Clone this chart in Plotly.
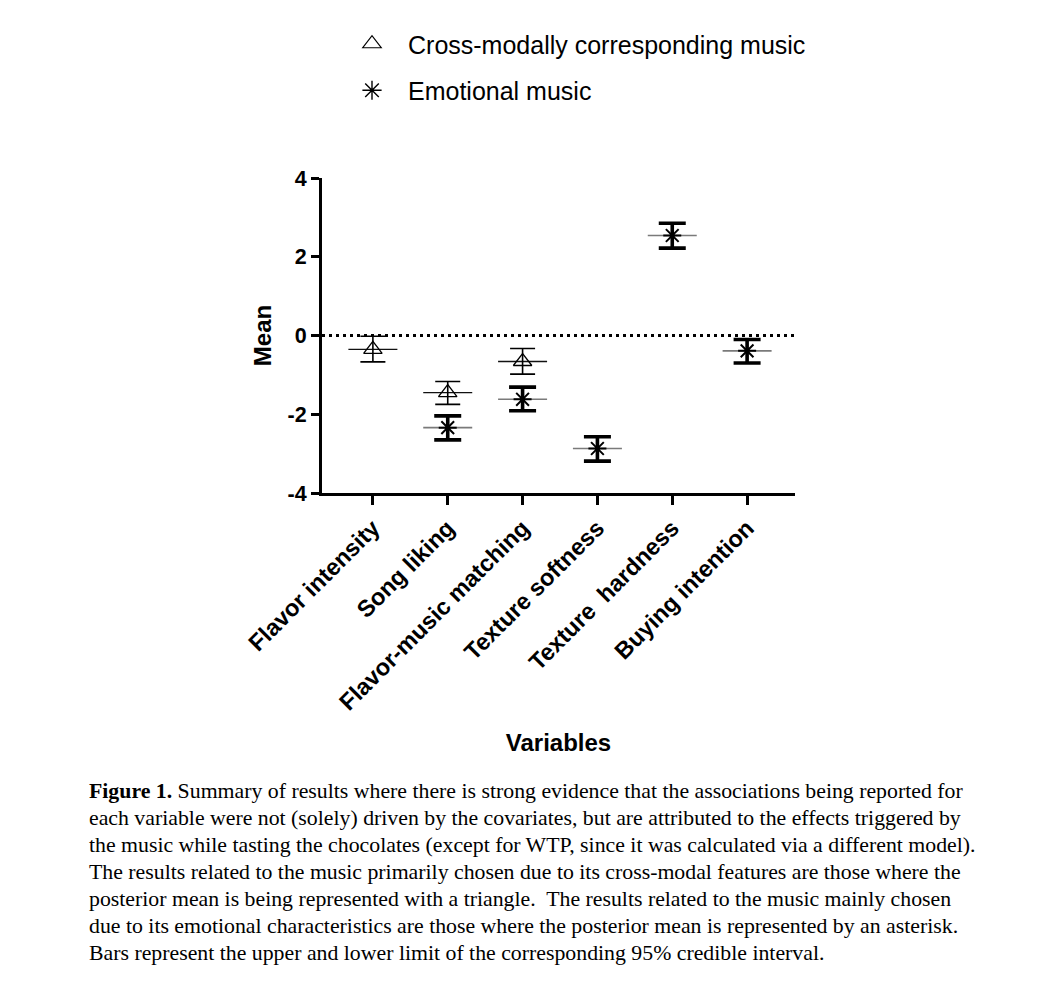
import plotly.graph_objects as go

# ---------------- data ----------------
categories = ["Flavor intensity", "Song liking", "Flavor-music matching",
              "Texture softness", "Texture\u00a0 hardness", "Buying intention"]

cm_cats = ["Flavor intensity", "Song liking", "Flavor-music matching"]
cm_mean = [-0.35, -1.45, -0.66]
cm_upper = [-0.02, -1.17, -0.33]
cm_lower = [-0.67, -1.75, -0.98]

em_cats = ["Song liking", "Flavor-music matching", "Texture softness",
           "Texture\u00a0 hardness", "Buying intention"]
em_mean = [-2.34, -1.62, -2.87, 2.54, -0.39]
em_upper = [-2.04, -1.31, -2.57, 2.85, -0.10]
em_lower = [-2.65, -1.91, -3.19, 2.22, -0.70]

y_ticks = [-4, -2, 0, 2, 4]
y_ticktext = ["-4", "-2", "0", "2", "4"]

series_names = ["Cross-modally corresponding music", "Emotional music"]

caption_lines = [
    "<b>Figure 1.</b> Summary of results where there is strong evidence that the associations being reported for",
    "each variable were not (solely) driven by the covariates, but are attributed to the effects triggered by",
    "the music while tasting the chocolates (except for WTP, since it was calculated via a different model).",
    "The results related to the music primarily chosen due to its cross-modal features are those where the",
    "posterior mean is being represented with a triangle.  The results related to the music mainly chosen",
    "due to its emotional characteristics are those where the posterior mean is represented by an asterisk.",
    "Bars represent the upper and lower limit of the corresponding 95% credible interval.",
]

# ---------------- layout geometry (page pixels; page body has 8px offset) ----------------
OFF = 8
W, H = 1040, 976
PL, PR, PT, PB = 322 - OFF, 795 - OFF, 178 - OFF, 493 - OFF


def px_to_paper_x(px):
    return (px - OFF - PL) / (PR - PL)


def px_to_paper_y(py):
    return (PB - (py - OFF)) / (PB - PT)


SANS = "Liberation Sans"
SERIF = "Liberation Serif"

cat_index = {c: i for i, c in enumerate(categories)}
cm_x = [cat_index[c] for c in cm_cats]
em_x = [cat_index[c] for c in em_cats]

fig = go.Figure()

# mean lines
fig.add_trace(go.Scatter(
    x=cm_x, y=cm_mean, mode="markers", showlegend=False, hoverinfo="skip",
    marker=dict(symbol="line-ew-open", size=35, color="#111111",
                line=dict(color="#111111", width=1.3)),
))
fig.add_trace(go.Scatter(
    x=em_x, y=em_mean, mode="markers", showlegend=False, hoverinfo="skip",
    marker=dict(symbol="line-ew-open", size=35, color="#7a7a7a",
                line=dict(color="#7a7a7a", width=1.6)),
))

# cross-modal: thin error bars + open triangle
fig.add_trace(go.Scatter(
    x=cm_x, y=cm_mean, mode="markers", showlegend=False,
    marker=dict(symbol="triangle-up-open", size=16, color="black",
                line=dict(color="black", width=1.3)),
    error_y=dict(type="data", symmetric=False,
                 array=[u - m for u, m in zip(cm_upper, cm_mean)],
                 arrayminus=[m - l for m, l in zip(cm_mean, cm_lower)],
                 color="black", thickness=1.6, width=12.5),
))

# emotional: thick error bars + asterisk
fig.add_trace(go.Scatter(
    x=em_x, y=em_mean, mode="markers", showlegend=False,
    marker=dict(symbol="asterisk-open", size=15, color="black",
                line=dict(color="black", width=2)),
    error_y=dict(type="data", symmetric=False,
                 array=[u - m for u, m in zip(em_upper, em_mean)],
                 arrayminus=[m - l for m, l in zip(em_mean, em_lower)],
                 color="black", thickness=3.6, width=13.5),
))

# legend-only traces
fig.add_trace(go.Scatter(
    x=[None], y=[None], mode="markers", name=series_names[0], legendgroup="a",
    marker=dict(symbol="triangle-up-open", size=16, color="black",
                line=dict(color="black", width=1.2)),
))
fig.add_trace(go.Scatter(
    x=[None], y=[None], mode="markers", name=series_names[1], legendgroup="b",
    marker=dict(symbol="asterisk-open", size=16, color="black",
                line=dict(color="black", width=1.4)),
))

# dotted zero line
fig.add_shape(type="line", xref="paper", yref="y", x0=0, x1=1, y0=0, y1=0,
              line=dict(color="black", width=3, dash="3px,4px"), layer="below")

# caption
for i, line in enumerate(caption_lines):
    fig.add_annotation(
        text=line, xref="paper", yref="paper",
        x=px_to_paper_x(87), y=px_to_paper_y(791 + 27 * i),
        xanchor="left", yanchor="middle", showarrow=False, align="left",
        font=dict(family=SERIF, size=21.8, color="black"),
    )

fig.update_layout(
    width=W, height=H,
    margin=dict(l=PL, r=W - PR, t=PT, b=H - PB, pad=0, autoexpand=False),
    plot_bgcolor="white", paper_bgcolor="white",
    showlegend=True,
    legend=dict(
        x=px_to_paper_x(336), y=px_to_paper_y(21),
        xanchor="left", yanchor="top",
        font=dict(family=SANS, size=25, color="black"),
        itemwidth=62, traceorder="grouped", tracegroupgap=11,
        bgcolor="rgba(0,0,0,0)",
    ),
    xaxis=dict(
        tickmode="array", tickvals=list(range(len(categories))), ticktext=categories,
        range=[-0.68, 5.64], automargin=False,
        showline=True, linecolor="black", linewidth=3,
        ticks="outside", ticklen=9, tickwidth=3, tickcolor="black",
        tickangle=-45, showgrid=False, zeroline=False,
        tickfont=dict(family=SANS, size=23.5, color="black", weight="bold"),
        title=dict(text="Variables", standoff=21,
                   font=dict(family=SANS, size=24, color="black", weight="bold")),
    ),
    yaxis=dict(
        range=[-4, 4], tickmode="array", tickvals=y_ticks, ticktext=y_ticktext,
        automargin=False,
        showline=True, linecolor="black", linewidth=3,
        ticks="outside", ticklen=8, tickwidth=3, tickcolor="black",
        showgrid=False, zeroline=False,
        tickfont=dict(family=SANS, size=21.5, color="black", weight="bold"),
        title=dict(text="Mean", standoff=10,
                   font=dict(family=SANS, size=24, color="black", weight="bold")),
    ),
)

fig.write_html("out.html")
